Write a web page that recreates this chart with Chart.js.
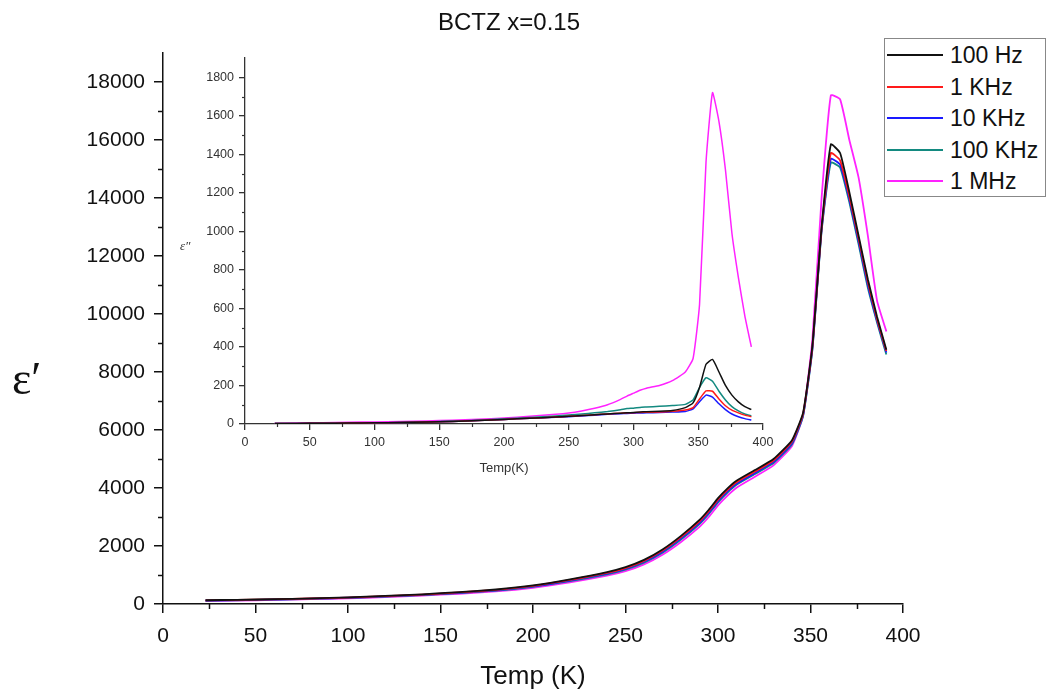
<!DOCTYPE html>
<html>
<head>
<meta charset="utf-8">
<script src="https://cdn.jsdelivr.net/npm/chart.js@4.4.1/dist/chart.umd.min.js"></script>
<style>
  html, body { margin: 0; padding: 0; background: #fff; }
  #wrap { position: relative; width: 1049px; height: 692px; overflow: hidden; font-family: "Liberation Sans", Arial, sans-serif; }
  #main { position: absolute; left: 0; top: 0; }
  #inset { position: absolute; left: 170px; top: 40px; }
  #title { position: absolute; top: 8px; left: 359px; width: 300px; text-align: center; font-size: 24px; color: #111; }
  #ylab { position: absolute; left: 12px; top: 352px; font-family: "Liberation Serif", "DejaVu Serif", serif; font-size: 46px; color: #111; }
  #ylab2 { position: absolute; left: 180px; top: 238px; font-family: "Liberation Serif", "DejaVu Serif", serif; font-style: italic; font-size: 13px; color: #333; }
  #legend { position: absolute; left: 884px; top: 38px; width: 162px; height: 159px; border: 1px solid #888; box-sizing: border-box; background: #fff; }
  .li { position: absolute; left: 2px; height: 26px; display: flex; align-items: center; font-size: 23px; color: #111; white-space: nowrap; }
  .li span.ln { display: inline-block; width: 56px; height: 2px; margin-right: 7px; }
</style>
</head>
<body>
<div id="wrap">
  <canvas id="main" width="1049" height="692"></canvas>
  <canvas id="inset" width="620" height="450"></canvas>
  <div id="title">BCTZ x=0.15</div>
  <div id="ylab">ε′</div>
  <div id="ylab2">ε″</div>
  <div id="legend"></div>
</div>
<script>
// ---------------- data ----------------
const temps = [23, 40, 60, 80, 100, 120, 140, 160, 180, 200, 220, 240, 250, 260, 270, 280, 290, 295, 300, 305, 310, 320, 330, 340, 346, 351, 356, 361, 366, 371, 376, 381, 386, 391];

const seriesLabels = ["100 Hz", "1 KHz", "10 KHz", "100 KHz", "1 MHz"];
const seriesColors = ["#111111", "#ff1a1a", "#1a1aff", "#138a80", "#ff22ff"];

// real permittivity (main plot)
const epsReal100Hz  = [130, 145, 165, 195, 230, 280, 335, 410, 500, 640, 850, 1100, 1270, 1520, 1880, 2350, 2900, 3250, 3650, 3980, 4250, 4620, 5000, 5650, 6600, 8900, 13000, 15850, 15550, 14200, 12700, 11200, 9900, 8770];
const epsReal1kHz   = [125, 140, 160, 190, 222, 270, 325, 398, 485, 622, 828, 1072, 1240, 1488, 1842, 2305, 2850, 3200, 3600, 3930, 4200, 4570, 4950, 5600, 6560, 8850, 12950, 15550, 15300, 14050, 12600, 11100, 9820, 8720];
const epsReal10kHz  = [120, 135, 155, 184, 215, 262, 315, 386, 470, 605, 805, 1045, 1210, 1455, 1805, 2262, 2800, 3150, 3550, 3880, 4150, 4520, 4900, 5550, 6520, 8800, 12900, 15350, 15150, 13950, 12500, 11000, 9760, 8670];
const epsReal100kHz = [115, 130, 150, 178, 208, 254, 306, 375, 458, 590, 785, 1020, 1182, 1425, 1770, 2222, 2755, 3105, 3505, 3835, 4110, 4480, 4860, 5510, 6480, 8750, 12850, 15220, 15050, 13850, 12400, 10900, 9700, 8600];
const epsReal1MHz   = [105, 120, 140, 166, 195, 238, 288, 354, 432, 560, 745, 975, 1130, 1365, 1700, 2140, 2660, 3000, 3400, 3730, 4010, 4390, 4780, 5450, 6500, 9100, 14000, 17540, 17400, 16000, 14700, 12700, 10450, 9400];

// imaginary permittivity (inset)
const epsImag100Hz  = [2, 3, 4, 5, 6, 8, 10, 13, 18, 24, 30, 36, 40, 44, 48, 52, 56, 58, 60, 62, 64, 66, 70, 85, 110, 190, 310, 335, 270, 200, 150, 115, 90, 75];
const epsImag1kHz   = [2, 3, 4, 5, 6, 8, 10, 13, 18, 24, 30, 36, 40, 44, 48, 52, 56, 58, 59, 60, 61, 62, 66, 73, 85, 130, 172, 170, 130, 95, 72, 58, 46, 38];
const epsImag10kHz  = [2, 3, 4, 5, 6, 8, 10, 13, 18, 24, 30, 35, 38, 42, 46, 50, 53, 55, 56, 57, 58, 60, 62, 65, 78, 115, 150, 140, 105, 75, 52, 38, 28, 21];
const epsImag100kHz = [2, 3, 4, 5, 6, 8, 11, 15, 20, 27, 34, 42, 47, 52, 58, 65, 74, 80, 82, 86, 88, 92, 96, 102, 125, 190, 240, 222, 170, 125, 90, 68, 52, 42];
const epsImag1MHz   = [3, 5, 7, 9, 11, 13, 16, 20, 25, 31, 40, 50, 57, 68, 82, 100, 128, 145, 160, 175, 186, 200, 225, 270, 340, 620, 1360, 1720, 1570, 1320, 990, 760, 560, 400];

// tick values
const mainXTicks = [0, 50, 100, 150, 200, 250, 300, 350, 400];
const mainXMinor = [25, 75, 125, 175, 225, 275, 325, 375];
const mainYTicks = [0, 2000, 4000, 6000, 8000, 10000, 12000, 14000, 16000, 18000];
const mainYMinor = [1000, 3000, 5000, 7000, 9000, 11000, 13000, 15000, 17000];
const insetXTicks = [0, 50, 100, 150, 200, 250, 300, 350, 400];
const insetXMinor = [25, 75, 125, 175, 225, 275, 325, 375];
const insetYTicks = [0, 200, 400, 600, 800, 1000, 1200, 1400, 1600, 1800];
const insetYMinor = [100, 300, 500, 700, 900, 1100, 1300, 1500, 1700];

// ---------------- helpers ----------------
const realSeries = [epsReal100Hz, epsReal1kHz, epsReal10kHz, epsReal100kHz, epsReal1MHz];
const imagSeries = [epsImag100Hz, epsImag1kHz, epsImag10kHz, epsImag100kHz, epsImag1MHz];

function makeDatasets(series, width) {
  return series.map((vals, i) => ({
    label: seriesLabels[i],
    data: vals.map((v, j) => ({ x: temps[j], y: v })),
    borderColor: seriesColors[i],
    backgroundColor: seriesColors[i],
    borderWidth: width,
    pointRadius: 0,
    tension: 0.15,
    fill: false
  }));
}

const minorTicks = {
  id: 'minorTicks',
  afterDraw(chart, args, opts) {
    const ctx = chart.ctx;
    const xs = chart.scales.x, ys = chart.scales.y;
    ctx.save();
    ctx.strokeStyle = opts.color;
    ctx.lineWidth = opts.width;
    for (const v of opts.xMinor) {
      const px = Math.round(xs.getPixelForValue(v)) + 0.5;
      ctx.beginPath(); ctx.moveTo(px, xs.top); ctx.lineTo(px, xs.top + opts.len); ctx.stroke();
    }
    for (const v of opts.yMinor) {
      const py = Math.round(ys.getPixelForValue(v)) + 0.5;
      ctx.beginPath(); ctx.moveTo(ys.right, py); ctx.lineTo(ys.right - opts.len, py); ctx.stroke();
    }
    ctx.restore();
  }
};

function axis(ticksArr, min, max, o) {
  return {
    type: 'linear', min: min, max: max,
    afterBuildTicks: s => { s.ticks = ticksArr.map(v => ({ value: v })); },
    afterFit: s => { if (o.width !== undefined) s.width = o.width; if (o.height !== undefined) s.height = o.height; },
    border: { display: true, color: o.color, width: o.lineW },
    grid: { display: true, drawOnChartArea: false, drawTicks: true, tickLength: o.tickLen, color: o.color, tickColor: o.color, lineWidth: o.lineW, tickWidth: o.lineW },
    ticks: { color: o.textColor, font: { family: '"Liberation Sans", Arial, sans-serif', size: o.font }, padding: o.pad, maxRotation: 0, autoSkip: false, callback: v => String(v) },
    title: o.title ? { display: true, text: o.title, color: o.textColor, font: { family: '"Liberation Sans", Arial, sans-serif', size: o.titleSize }, padding: { top: 0, bottom: o.titlePad } } : { display: false }
  };
}

// ---------------- main chart ----------------
new Chart(document.getElementById('main'), {
  type: 'line',
  data: { datasets: makeDatasets(realSeries, 1.8) },
  options: {
    responsive: false, animation: false, devicePixelRatio: 1,
    parsing: false,
    layout: { padding: { top: 53, right: 146, left: 0, bottom: 0 } },
    plugins: {
      legend: { display: false }, tooltip: { enabled: false },
      minorTicks: { xMinor: mainXMinor, yMinor: mainYMinor, len: 5, color: '#111', width: 1.5 }
    },
    scales: {
      x: axis(mainXTicks, 0, 400, { height: 88, color: '#111', lineW: 1.5, tickLen: 9, font: 21, pad: 11, textColor: '#111', title: 'Temp (K)', titleSize: 26, titlePad: 0 }),
      y: axis(mainYTicks, 0, 19000, { width: 163, color: '#111', lineW: 1.5, tickLen: 9, font: 21, pad: 9, textColor: '#111' })
    }
  },
  plugins: [minorTicks]
});

// ---------------- inset chart ----------------
new Chart(document.getElementById('inset'), {
  type: 'line',
  data: { datasets: makeDatasets(imagSeries, 1.5) },
  options: {
    responsive: false, animation: false, devicePixelRatio: 1,
    parsing: false,
    layout: { padding: { top: 18, right: 27, left: 0, bottom: 0 } },
    plugins: {
      legend: { display: false }, tooltip: { enabled: false },
      minorTicks: { xMinor: insetXMinor, yMinor: insetYMinor, len: 3, color: '#333', width: 1.2 }
    },
    scales: {
      x: axis(insetXTicks, 0, 400, { height: 66, color: '#333', lineW: 1.3, tickLen: 6, font: 12.5, pad: 5, textColor: '#333', title: 'Temp(K)', titleSize: 13, titlePad: 14 }),
      y: axis(insetYTicks, 0, 1900, { width: 75, color: '#333', lineW: 1.3, tickLen: 6, font: 12.5, pad: 5, textColor: '#333' })
    }
  },
  plugins: [minorTicks]
});

// ---------------- legend ----------------
const legendEl = document.getElementById('legend');
const legendTops = [3, 35, 66, 98, 129];
seriesLabels.forEach((lab, i) => {
  const d = document.createElement('div');
  d.className = 'li';
  d.style.top = legendTops[i] + 'px';
  d.innerHTML = '<span class="ln" style="background:' + seriesColors[i] + '"></span>' + lab;
  legendEl.appendChild(d);
});
</script>
</body>
</html>
